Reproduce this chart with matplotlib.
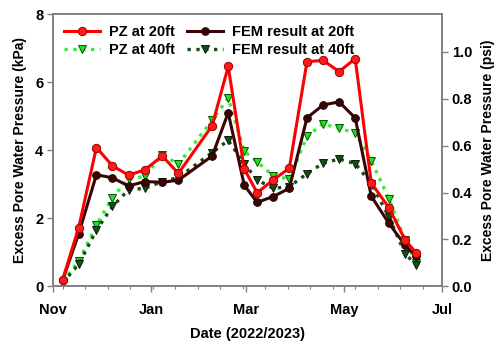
import pandas as pd
import matplotlib
matplotlib.use('Agg')
import matplotlib.pyplot as plt
import matplotlib.dates as mdates
from matplotlib.ticker import FixedLocator, FormatStrFormatter

plt.rcParams['font.family'] = ['Liberation Sans', 'DejaVu Sans']
plt.rcParams['font.weight'] = 'bold'

# Данные
dates = ['2022-11-07', '2022-11-17', '2022-11-28', '2022-12-08', '2022-12-18',
         '2022-12-28', '2023-01-08', '2023-01-18', '2023-02-08', '2023-02-18',
         '2023-02-28', '2023-03-08', '2023-03-18', '2023-03-28', '2023-04-08',
         '2023-04-18', '2023-04-28', '2023-05-08', '2023-05-18', '2023-05-29',
         '2023-06-08', '2023-06-15']
pz20 = [0.20, 1.73, 4.08, 3.54, 3.27, 3.42, 3.83, 3.32, 4.72, 6.46, 3.45,
        2.75, 3.13, 3.47, 6.60, 6.64, 6.31, 6.69, 3.04, 2.31, 1.37, 0.98]
fem20 = [0.18, 1.55, 3.28, 3.19, 2.95, 3.08, 3.06, 3.12, 3.83, 5.10, 2.97,
         2.47, 2.64, 2.88, 4.95, 5.33, 5.42, 4.95, 2.65, 1.85, 1.21, 0.88]
pz40 = [0.14, 0.74, 1.80, 2.61, 3.16, 3.23, 3.87, 3.59, 4.88, 5.53, 3.97,
        3.66, 3.25, 3.15, 4.41, 4.78, 4.64, 4.51, 3.69, 2.57, 1.36, 0.70]
fem40 = [0.11, 0.65, 1.65, 2.35, 2.84, 2.88, 3.08, 3.20, 3.93, 4.29, 3.60,
         3.13, 2.88, 2.93, 3.31, 3.62, 3.74, 3.61, 3.02, 2.04, 0.96, 0.63]

KPA_PER_PSI = 6.895
x = pd.to_datetime(dates)

fig = plt.figure(figsize=(5, 3.43), dpi=100)
ax = fig.add_axes([0.106, 0.165, 0.778, 0.794])

ax.plot(x, pz20, '-', color='#ff0000', lw=2.2, marker='o', ms=6,
        mfc='#ff1a1a', mec='#990000', mew=0.7, label='PZ at 20ft', zorder=4)
ax.plot(x, fem20, '-', color='#3c0505', lw=2.2, marker='o', ms=5.5,
        mfc='#3c0505', mec='#1a0000', mew=0.7, label='FEM result at 20ft', zorder=3)
ax.plot(x, pz40, ':', color='#33ee33', lw=2.4, marker='v', ms=5.5,
        mfc='#22dd22', mec='#005500', mew=0.7, label='PZ at 40ft', zorder=2)
ax.plot(x, fem40, ':', color='#1a4a1a', lw=2.4, marker='v', ms=5.5,
        mfc='#1a4a1a', mec='#002200', mew=0.7, label='FEM result at 40ft', zorder=2)

# Ось X
ax.set_xlim(pd.Timestamp('2022-11-01'), pd.Timestamp('2023-07-01'))
ax.xaxis.set_major_locator(mdates.MonthLocator(bymonth=[1, 3, 5, 7, 11]))
ax.xaxis.set_major_formatter(mdates.DateFormatter('%b'))
minor = pd.date_range('2022-11-07', '2023-07-01', freq='14D')
ax.xaxis.set_minor_locator(FixedLocator(mdates.date2num(minor)))
ax.set_xlabel('Date (2022/2023)', fontsize=10.5, fontweight='bold', labelpad=7)

# Ось Y (kPa)
ax.set_ylim(0, 8)
ax.set_yticks([0, 2, 4, 6, 8])
ax.set_ylabel('Excess Pore Water Pressure (kPa)', fontsize=10, fontweight='bold', labelpad=6)

# Правая ось (psi)
ax2 = ax.twinx()
ax2.set_ylim(0, 8 / KPA_PER_PSI)
ax2.set_yticks([0.0, 0.2, 0.4, 0.6, 0.8, 1.0])
ax2.yaxis.set_major_formatter(FormatStrFormatter('%.1f'))
ax2.set_ylabel('Excess Pore Water Pressure (psi)', fontsize=10, fontweight='bold', labelpad=6)

for a in (ax, ax2):
    for s in a.spines.values():
        s.set_color('#808080')
        s.set_linewidth(1.2)
    a.tick_params(which='major', length=4, width=1, color='#808080',
                  labelsize=10.5, pad=3)
    a.tick_params(which='minor', length=2.5, width=0.8, color='#808080')
    for lbl in a.get_xticklabels() + a.get_yticklabels():
        lbl.set_fontweight('bold')
ax.tick_params(axis='x', pad=8)

h, l = ax.get_legend_handles_labels()
order = [0, 2, 1, 3]
ax.legend([h[i] for i in order], [l[i] for i in order], ncol=2,
          loc='upper left', bbox_to_anchor=(0.0, 1.0), frameon=False,
          prop={'weight': 'bold', 'size': 10.5}, handlelength=2.5,
          handletextpad=0.6, columnspacing=0.8, labelspacing=0.25,
          borderaxespad=0.35)

fig.savefig('out.png', dpi=100)
